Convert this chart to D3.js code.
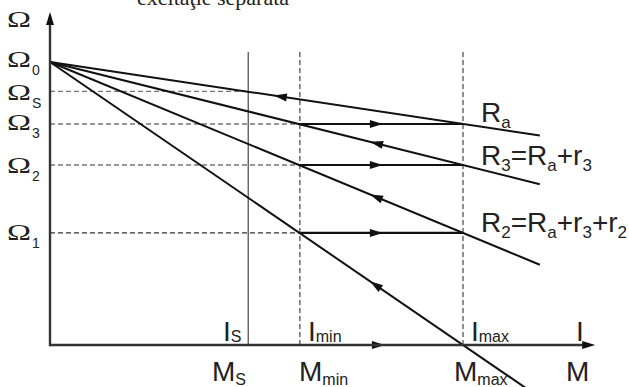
<!DOCTYPE html>
<html><head><meta charset="utf-8">
<script src="https://cdn.jsdelivr.net/npm/d3@7"></script>
<style>html,body{margin:0;padding:0;background:#fff;overflow:hidden}</style>
</head><body>
<script>
// ---- data (torque M in % of Mmax, speed Ω in % of Ω0) ----
const torqueNames  = ["S", "min", "max"];
const torqueValues = [48, 60.5, 100];
const currentNames = ["S", "min", "max"];
const speedNames   = ["0", "S", "3", "2", "1"];
const speedValues  = [100, 89.6, 78.1, 63.6, 39.6];
// characteristic lines: speed reached at Mmax and end torque
const lineLabels   = [["R","a"], ["R","3","=R","a","+r","3"], ["R","2","=R","a","+r","3","+r","2"], null];
const lineAtMmax   = [78.1, 63.6, 39.6, 0];
const lineEndM     = [118.6, 118.6, 118.6, 122];
// start-up steps (horizontal jumps at constant speed, Mmin -> Mmax)
const stepSpeeds   = [78.1, 63.6, 39.6, 0];
const stepArrowM   = [80.6, 80.6, 80.6, 81.1];
// arrows along characteristics (pointing towards lower torque)
const slopeArrowM  = [54.2, 77.5, 77.5, 77.5];
const axisMax      = [132, 117.7];   // M, Ω
const guideTop     = 103.5;
const title        = "excitaţie separată";

const W = 629, H = 387;
const svg = d3.select("body").append("svg").attr("width", W).attr("height", H)
  .style("font-family", "'Liberation Sans', Arial, sans-serif");
const x = d3.scaleLinear().domain([0, 100]).range([50, 463]);
const y = d3.scaleLinear().domain([0, 100]).range([345, 62]);
const O0 = speedValues[0];
const lineY = (i, m) => O0 - (O0 - lineAtMmax[i]) * m / 100;

function arrowHead(px, py, dx, dy, len = 13, hw = 4) {
  const L = Math.hypot(dx, dy); const ux = dx / L, uy = dy / L;
  const bx = px - ux * len, by = py - uy * len;
  svg.append("path")
    .attr("d", `M${px},${py}L${bx - uy * hw},${by + ux * hw}L${bx + uy * hw},${by - ux * hw}Z`)
    .attr("fill", "#111");
}

// title (cut off at the top)
svg.append("text").attr("x", 137).attr("y", 5).attr("font-family", "'Liberation Serif', 'Times New Roman', serif")
  .attr("font-size", 22).attr("fill", "#222").text(title);

// horizontal dashed guides
speedValues.slice(1).forEach((v, i) => {
  const toM = i === 0 ? torqueValues[0] : torqueValues[1];
  svg.append("line").attr("x1", x(0)).attr("x2", x(toM)).attr("y1", y(v)).attr("y2", y(v))
    .attr("stroke", i === 0 ? "#777" : "#333").attr("stroke-width", 1.2).attr("stroke-dasharray", "5,3");
});
// vertical guides
torqueValues.forEach((v, i) => {
  svg.append("line").attr("x1", x(v)).attr("x2", x(v)).attr("y1", y(guideTop)).attr("y2", y(0))
    .attr("stroke", i === 0 ? "#555" : "#333").attr("stroke-width", i === 0 ? 1.3 : 1.1)
    .attr("stroke-dasharray", i === 0 ? null : "5,3");
});

// characteristics
lineAtMmax.forEach((v, i) => {
  svg.append("line").attr("x1", x(0)).attr("y1", y(O0)).attr("x2", x(lineEndM[i])).attr("y2", y(lineY(i, lineEndM[i])))
    .attr("stroke", "#111").attr("stroke-width", 2);
  const m = slopeArrowM[i];
  arrowHead(x(m), y(lineY(i, m)), x(0) - x(100), y(O0) - y(v));
});

// steps
stepSpeeds.forEach((v, i) => {
  svg.append("line").attr("x1", x(torqueValues[1])).attr("x2", x(torqueValues[2])).attr("y1", y(v)).attr("y2", y(v))
    .attr("stroke", "#111").attr("stroke-width", 2.2);
  arrowHead(x(stepArrowM[i]), y(v), 1, 0);
});

// axes
svg.append("line").attr("x1", x(0)).attr("x2", x(axisMax[0]) - 8).attr("y1", y(0)).attr("y2", y(0))
  .attr("stroke", "#333").attr("stroke-width", 2.4);
svg.append("line").attr("x1", x(0)).attr("x2", x(0)).attr("y1", y(0) + 1.2).attr("y2", y(axisMax[1]) + 8)
  .attr("stroke", "#333").attr("stroke-width", 2.4);
arrowHead(x(axisMax[0]), y(0), 1, 0);
arrowHead(x(0), y(axisMax[1]), 0, -1);

// Ω labels
function omega(xp, base, sub) {
  svg.append("text").attr("x", xp).attr("y", base).attr("font-family", "'Liberation Serif', serif")
    .attr("font-size", 23).attr("fill", "#222").attr("textLength", 24).attr("lengthAdjust", "spacingAndGlyphs").text("Ω");
  if (sub) svg.append("text").attr("x", xp + 25).attr("y", base + 8).attr("font-size", 14).attr("fill", "#222").text(sub);
}
omega(7, 27, null);
const omegaBase = [67, 100, 130, 173, 240];
speedNames.forEach((s, i) => omega(7, omegaBase[i], s));

// line labels
function richText(xp, base, parts, size, subSize, shift) {
  const t = svg.append("text").attr("x", xp).attr("y", base).attr("font-size", size).attr("fill", "#222");
  parts.forEach((p, k) => {
    const sub = k % 2 === 1;
    t.append("tspan").attr("font-size", sub ? subSize : size).attr("dy", k === 0 ? 0 : (sub ? shift : -shift)).text(p);
  });
}
const labelBase = [122, 165, 232];
lineLabels.forEach((p, i) => { if (p) richText(481, labelBase[i], p, 28, 17, 6); });

// bottom labels
const mX = [212, 299, 454];
torqueNames.forEach((s, i) => richText(mX[i], 381, ["M", s], 28, 16, 4));
richText(566, 381, ["M"], 28, 16, 4);
const iX = [223, 308, 471];
currentNames.forEach((s, i) => richText(iX[i], 341, ["I", s], 28, 16, 1));
richText(576, 341, ["I"], 28, 16, 1);
</script>
</body></html>
